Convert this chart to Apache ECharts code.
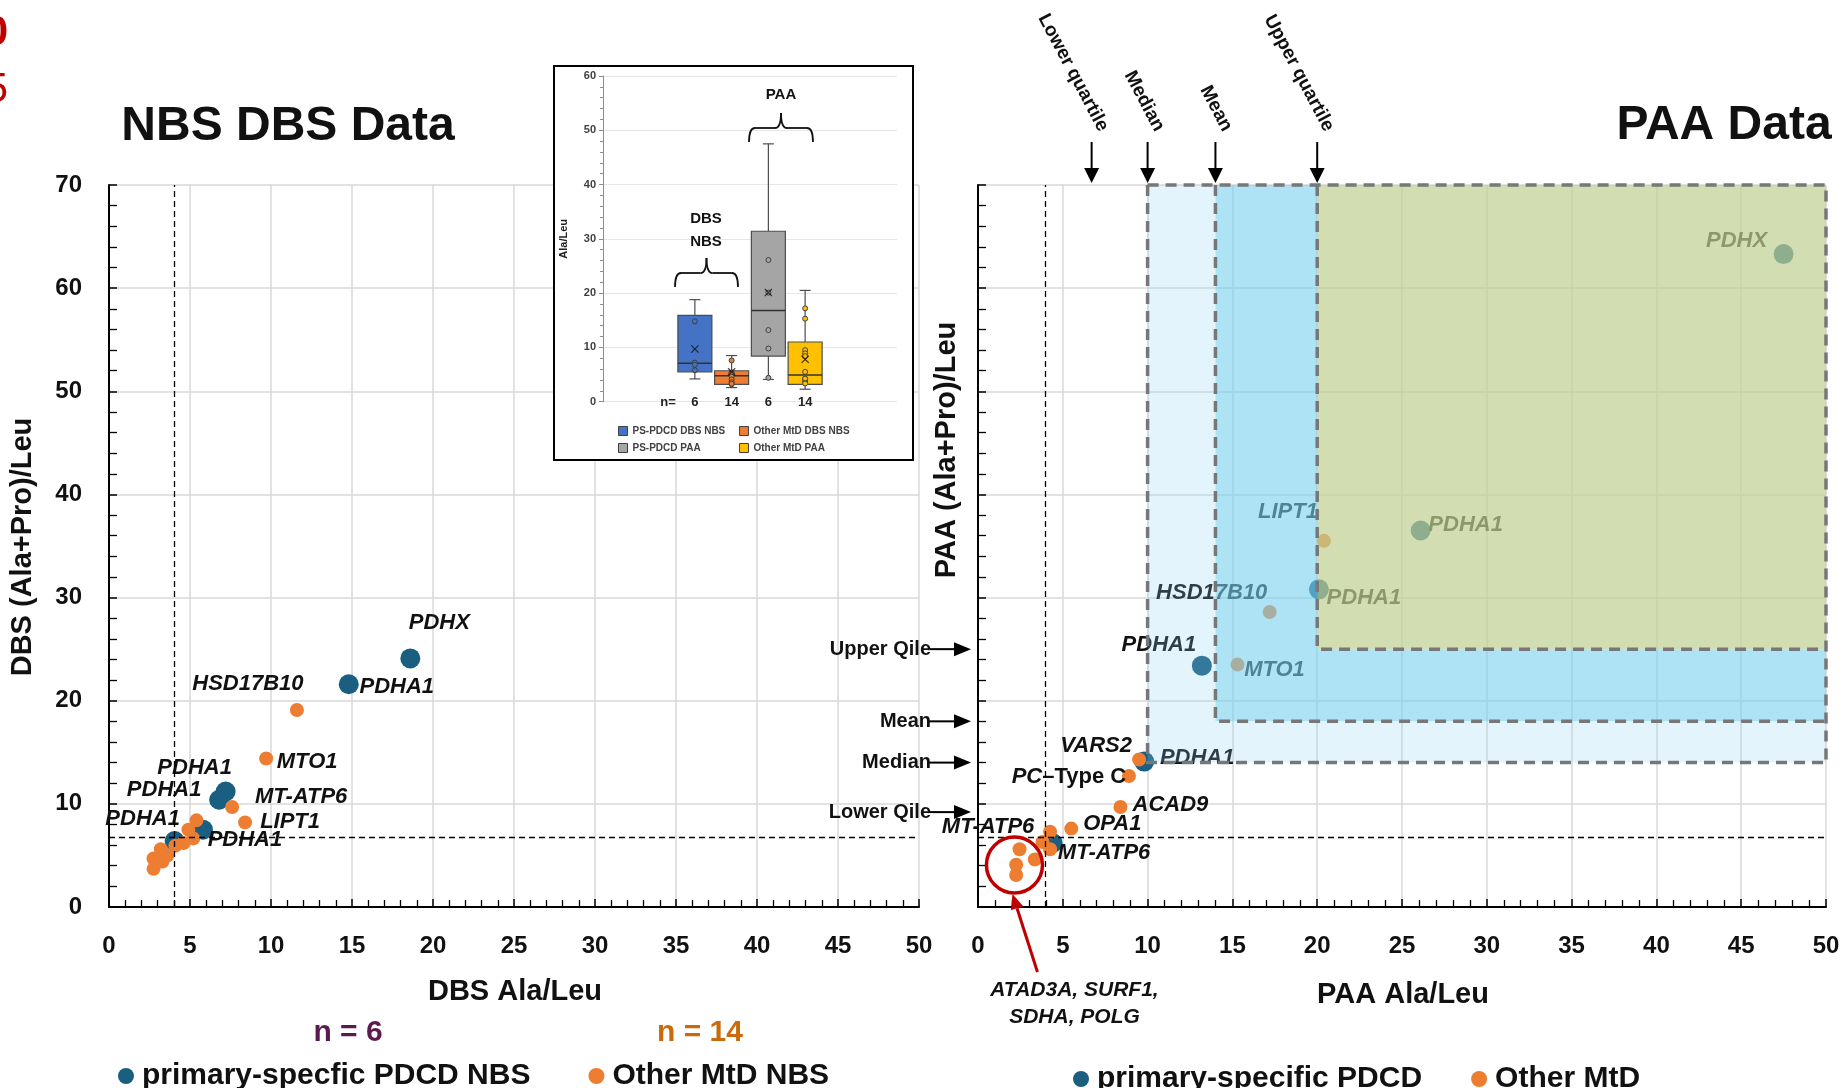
<!DOCTYPE html>
<html><head><meta charset="utf-8">
<script src="https://cdn.jsdelivr.net/npm/echarts@6/dist/echarts.min.js"></script>
<style>html,body{margin:0;padding:0;background:#fff}#c{width:1845px;height:1088px}</style>
</head><body><div id="c"></div>
<script>
// ---------------- data ----------------
// NBS dried blood spot data
const dbsPdcdX = [18.6, 14.8, 7.2, 6.8, 5.8, 4.05];
const dbsPdcdY = [24.1, 21.6, 11.2, 10.4, 7.5, 6.4];
const dbsPdcdGene = ['PDHX', 'PDHA1', 'PDHA1', 'PDHA1', 'PDHA1', 'PDHA1'];

const dbsOtherX = [11.6, 9.7, 7.6, 8.4, 5.4, 4.9, 5.2, 4.6, 4.1, 3.6, 3.2, 2.75, 2.75, 3.3];
const dbsOtherY = [19.1, 14.4, 9.7, 8.2, 8.4, 7.5, 6.65, 6.2, 5.95, 5.0, 5.6, 4.7, 3.7, 4.4];
const dbsOtherGene = ['HSD17B10', 'MTO1', 'MT-ATP6', 'LIPT1', '', '', '', '', '', '', '', '', '', ''];

// Plasma amino acid data
const paaPdcdX = [47.5, 26.1, 20.1, 13.2, 9.8, 4.4];
const paaPdcdY = [63.3, 36.5, 30.8, 23.4, 14.1, 6.2];
const paaPdcdGene = ['PDHX', 'PDHA1', 'PDHA1', 'PDHA1', 'PDHA1', ''];

const paaOtherX = [20.4, 17.2, 15.3, 9.5, 8.9, 8.4, 5.5, 4.25, 3.8, 4.25, 3.35, 2.45, 2.25, 2.25];
const paaOtherY = [35.5, 28.6, 23.5, 14.3, 12.7, 9.7, 7.6, 7.3, 6.3, 5.6, 4.6, 5.6, 4.1, 3.1];
const paaOtherGene = ['LIPT1', 'HSD17B10', 'MTO1', 'VARS2', 'PC–Type C', 'ACAD9', 'OPA1', 'MT-ATP6', '', 'MT-ATP6', '', '', '', ''];

// cut-off lines
const dbsCutX = 4.0, dbsCutY = 6.8;
const paaCutX = 3.95, paaCutY = 6.8;

// PDCD PAA summary statistics (order: lower quartile, median, mean, upper quartile)
const quartXLabels = ['Lower quartile', 'Median', 'Mean', 'Upper quartile'];
const quartXValues = [6.7, 10, 14, 20];
const quartYLabels = ['Lower Qile', 'Median', 'Mean', 'Upper Qile'];
const quartYValues = [9.2, 14, 18, 25];

// inset box plot
const boxNames = ['PS-PDCD DBS NBS', 'Other MtD DBS NBS', 'PS-PDCD PAA', 'Other MtD PAA'];
const boxStats = [ // min, Q1, median, Q3, max
  [4.2, 5.5, 7.1, 15.9, 18.8],
  [2.6, 3.2, 4.8, 5.7, 8.5],
  [4.1, 8.4, 16.8, 31.4, 47.5],
  [2.3, 3.2, 4.9, 11.0, 20.5]
];
const boxMeans = [9.7, 5.5, 20.1, 7.8];
const boxCounts = ['6', '14', '6', '14'];
const insetCats = ['', 'n=', ...boxCounts, '', ''];

// encircled genes
const circledGenes = ['ATAD3A, SURF1,', 'SDHA, POLG'];
const circleCenter = [2.15, 4.07];

// ---------------- styling ----------------
const FONT = '"Liberation Sans", Arial, Helvetica, sans-serif';
const BLUE = '#1a5e80', ORANGE = '#ed7d31';
const boxColors = ['#4472c4', '#ed7d31', '#a5a5a5', '#ffc000'];
const regionFills = ['rgba(137,208,242,0.24)', 'rgba(120,208,240,0.60)', 'rgba(191,207,147,0.71)'];
const LBL = {
  dbsPdcd: [[29, -35], [48, 3], [-31, -24], [-55, -10], [42, 10], [-32, -22]],
  dbsOther: [[-49, -26], [41, 3], [69, -10], [45, 0]],
  paaPdcd: [[-47, -13], [45, -6], [45, 9], [-43, -21], [53, -4]],
  paaOther: [[-36, -29], [-58, -19], [37, 5], [-43, -14], [-60, 1], [50, -2], [41, -5], [-62, -5], null, [54, 4]]
};

function pts(xs, ys, genes, offs) {
  return xs.map((x, i) => {
    const o = { value: [x, ys[i]] };
    if (genes[i]) {
      o.label = { show: true, formatter: genes[i], position: 'inside', offset: offs[i] };
      if (genes[i].indexOf('PC') === 0) {
        o.label.formatter = '{i|PC}' + genes[i].slice(2);
        o.label.fontStyle = 'normal';
        o.label.rich = { i: { fontStyle: 'italic', fontWeight: 'bold', fontSize: 22, fontFamily: FONT, color: '#111' } };
      }
    }
    return o;
  });
}
const geneLabel = { show: false, fontFamily: FONT, fontSize: 22, fontWeight: 'bold', fontStyle: 'italic', color: '#111' };

function mainX(g) {
  return {
    type: 'value', gridIndex: g, min: 0, max: 50, interval: 5,
    axisLine: { show: true, onZero: false, lineStyle: { color: '#000', width: 2 } },
    axisTick: { show: true, inside: true, length: 8, lineStyle: { color: '#000', width: 1.5 } },
    minorTick: { show: true, splitNumber: 5, length: 7, lineStyle: { color: '#000', width: 1.3 } },
    splitLine: { show: true, lineStyle: { color: '#d9d9d9', width: 1.5 } },
    axisLabel: { fontFamily: FONT, fontWeight: 'bold', fontSize: 24, color: '#111', margin: 27 }
  };
}
function mainY(g, showLabel) {
  return {
    type: 'value', gridIndex: g, min: 0, max: 70, interval: 10,
    axisLine: { show: true, onZero: false, lineStyle: { color: '#000', width: 2 } },
    axisTick: { show: true, inside: true, length: 8, lineStyle: { color: '#000', width: 1.5 } },
    minorTick: { show: true, splitNumber: 5, length: 8, lineStyle: { color: '#000', width: 1.3 } },
    splitLine: { show: true, lineStyle: { color: '#d9d9d9', width: 1.5 } },
    axisLabel: { show: showLabel, fontFamily: FONT, fontWeight: 'bold', fontSize: 24, color: '#111', margin: 27 }
  };
}
const cutLine = (x, y) => ({
  silent: true, symbol: 'none', label: { show: false },
  lineStyle: { type: [6, 4], color: '#000', width: 1.3 },
  data: [{ xAxis: x }, { yAxis: y }]
});

function boxRender(params, api) {
  const cx = api.value(0);
  const pt = k => api.coord([cx, api.value(k)]);
  const pMin = pt(1), pQ1 = pt(2), pMed = pt(3), pQ3 = pt(4), pMax = pt(5);
  const x = pMed[0], hw = 17, cw = 5.5;
  const st = { stroke: '#4d4d4d', lineWidth: 1.2 };
  return { type: 'group', children: [
    { type: 'line', shape: { x1: x, y1: pQ1[1], x2: x, y2: pMin[1] }, style: st },
    { type: 'line', shape: { x1: x, y1: pQ3[1], x2: x, y2: pMax[1] }, style: st },
    { type: 'line', shape: { x1: x - cw, y1: pMin[1], x2: x + cw, y2: pMin[1] }, style: st },
    { type: 'line', shape: { x1: x - cw, y1: pMax[1], x2: x + cw, y2: pMax[1] }, style: st },
    { type: 'rect', shape: { x: x - hw, y: pQ3[1], width: 2 * hw, height: pQ1[1] - pQ3[1] }, style: { fill: api.visual('color'), stroke: '#4d4d4d', lineWidth: 1.2 } },
    { type: 'line', shape: { x1: x - hw, y1: pMed[1], x2: x + hw, y2: pMed[1] }, style: { stroke: '#333', lineWidth: 1.5 } }
  ] };
}

const regionCorners = [1, 2, 3].map(i => [quartXValues[i], quartYValues[i]]);
function regionRender(params, api) {
  const i = params.dataIndex;
  const x0 = api.value(0), y0 = api.value(1);
  let poly;
  if (i < regionCorners.length - 1) {
    const [x1, y1] = regionCorners[i + 1];
    poly = [[x0, y0], [50, y0], [50, y1], [x1, y1], [x1, 70], [x0, 70]];
  } else {
    poly = [[x0, y0], [50, y0], [50, 70], [x0, 70]];
  }
  return { type: 'polygon', shape: { points: poly.map(p => api.coord(p)) }, style: { fill: regionFills[i] } };
}
function borderRender(params, api) {
  const x0 = api.value(0), y0 = api.value(1);
  const st = { fill: 'none', stroke: '#777', lineWidth: 3.5, lineDash: [11, 7] };
  const kids = [{ type: 'polyline', shape: { points: [[x0, 70], [x0, y0], [50, y0]].map(p => api.coord(p)) }, style: st }];
  if (params.dataIndex === 0) {
    kids.push({ type: 'polyline', shape: { points: [[x0, 70], [50, 70], [50, y0]].map(p => api.coord(p)) }, style: st });
  }
  return { type: 'group', children: kids };
}

// inset points from the individual x-values (values at whisker ends hidden by caps)
const insetSets = [dbsPdcdX, dbsOtherX, paaPdcdX, paaOtherX];
const insetPts = [];
insetSets.forEach((arr, k) => arr.forEach(v => {
  if (v > boxStats[k][0] + 0.3 && v < boxStats[k][4] - 0.3) {
    insetPts.push({ value: [2 + k, v], itemStyle: { color: boxColors[k] } });
  }
}));

const option = {
  animation: false,
  backgroundColor: '#fff',
  textStyle: { fontFamily: FONT },
  grid: [
    { left: 109, top: 185, width: 810, height: 722 },
    { left: 978, top: 185, width: 848, height: 722 },
    { left: 603, top: 76, width: 294, height: 325.7 }
  ],
  xAxis: [mainX(0), mainX(1), {
    type: 'category', gridIndex: 2, data: insetCats, z: 20,
    axisLine: { show: false }, axisTick: { show: false }, splitLine: { show: false },
    axisLabel: { interval: 0, margin: -6, fontSize: 13, fontWeight: 'bold', color: '#222',
      formatter: v => v === 'n=' ? '{n|n=}' : v,
      rich: { n: { padding: [0, 0, 0, 20], fontSize: 13, fontWeight: 'bold', color: '#222' } } }
  }],
  yAxis: [mainY(0, true), mainY(1, false), {
    type: 'value', gridIndex: 2, min: 0, max: 60, interval: 10, z: 20,
    name: 'Ala/Leu', nameLocation: 'middle', nameGap: 34,
    nameTextStyle: { fontSize: 11, fontWeight: 'bold', color: '#222' },
    axisLine: { show: true, lineStyle: { color: '#8c8c8c', width: 1 } },
    axisTick: { show: true, length: 4, lineStyle: { color: '#8c8c8c' } },
    minorTick: { show: true, splitNumber: 5, length: 3, lineStyle: { color: '#8c8c8c' } },
    splitLine: { show: true, lineStyle: { color: '#e6e6e6', width: 1 } },
    axisLabel: { fontSize: 11, fontWeight: 'bold', color: '#404040', margin: 7 }
  }],
  legend: [
    { data: ['primary-specfic PDCD NBS', 'Other MtD NBS'], left: 113, top: 1056, itemGap: 58, icon: 'circle',
      itemWidth: 16, itemHeight: 20, selectedMode: false,
      textStyle: { fontFamily: FONT, fontWeight: 'bold', fontSize: 30, color: '#111', lineHeight: 30, padding: [0, 0, 0, 3] } },
    { data: ['primary-specific PDCD', 'Other MtD'], left: 1068, top: 1059, itemGap: 49, icon: 'circle',
      itemWidth: 16, itemHeight: 20, selectedMode: false,
      textStyle: { fontFamily: FONT, fontWeight: 'bold', fontSize: 30, color: '#111', lineHeight: 30, padding: [0, 0, 0, 3] } },
    { data: [boxNames[0], boxNames[2]], left: 613, top: 421, orient: 'vertical', itemGap: 7, icon: 'rect',
      itemWidth: 9, itemHeight: 9, selectedMode: false, z: 30, itemStyle: { borderColor: '#404040', borderWidth: 1 },
      textStyle: { fontSize: 10, fontWeight: 'bold', color: '#404040' } },
    { data: [boxNames[1], boxNames[3]], left: 734, top: 421, orient: 'vertical', itemGap: 7, icon: 'rect',
      itemWidth: 9, itemHeight: 9, selectedMode: false, z: 30, itemStyle: { borderColor: '#404040', borderWidth: 1 },
      textStyle: { fontSize: 10, fontWeight: 'bold', color: '#404040' } }
  ],
  series: [
    { type: 'scatter', name: 'primary-specfic PDCD NBS', xAxisIndex: 0, yAxisIndex: 0, z: 2, symbolSize: 20,
      itemStyle: { color: BLUE, opacity: 1 }, label: geneLabel, emphasis: { disabled: true },
      data: pts(dbsPdcdX, dbsPdcdY, dbsPdcdGene, LBL.dbsPdcd), markLine: cutLine(dbsCutX, dbsCutY) },
    { type: 'scatter', name: 'Other MtD NBS', xAxisIndex: 0, yAxisIndex: 0, z: 3, symbolSize: 14,
      itemStyle: { color: ORANGE, opacity: 1 }, label: geneLabel, emphasis: { disabled: true },
      data: pts(dbsOtherX, dbsOtherY, dbsOtherGene, LBL.dbsOther) },
    { type: 'scatter', name: 'primary-specific PDCD', xAxisIndex: 1, yAxisIndex: 1, z: 2, symbolSize: 20,
      itemStyle: { color: BLUE, opacity: 1 }, label: geneLabel, emphasis: { disabled: true },
      data: pts(paaPdcdX, paaPdcdY, paaPdcdGene, LBL.paaPdcd), markLine: cutLine(paaCutX, paaCutY) },
    { type: 'scatter', name: 'Other MtD', xAxisIndex: 1, yAxisIndex: 1, z: 3, symbolSize: 14,
      itemStyle: { color: ORANGE, opacity: 1 }, label: geneLabel, emphasis: { disabled: true },
      data: pts(paaOtherX, paaOtherY, paaOtherGene, LBL.paaOther) },
    { type: 'custom', name: 'regions', xAxisIndex: 1, yAxisIndex: 1, z: 5, silent: true,
      renderItem: regionRender, data: regionCorners },
    { type: 'custom', name: 'region borders', xAxisIndex: 1, yAxisIndex: 1, z: 6, silent: true,
      renderItem: borderRender, data: regionCorners },
    ...boxNames.map((n, i) => ({
      type: 'custom', name: n, xAxisIndex: 2, yAxisIndex: 2, z: 22, silent: true,
      itemStyle: { color: boxColors[i] }, renderItem: boxRender,
      encode: { x: 0, y: [1, 2, 3, 4, 5] },
      data: [[2 + i, ...boxStats[i]]]
    })),
    { type: 'scatter', name: 'inset points', xAxisIndex: 2, yAxisIndex: 2, z: 23, silent: true, symbolSize: 5,
      itemStyle: { borderColor: '#404040', borderWidth: 1, opacity: 1 }, data: insetPts },
    { type: 'scatter', name: 'inset means', xAxisIndex: 2, yAxisIndex: 2, z: 24, silent: true, symbolSize: 8,
      symbol: 'path://M0,1L1,0L5,4L9,0L10,1L6,5L10,9L9,10L5,6L1,10L0,9L4,5Z',
      itemStyle: { color: '#111' }, data: boxMeans.map((m, i) => [2 + i, m]) }
  ]
};

const chart = echarts.init(document.getElementById('c'), null, { renderer: 'canvas' });
chart.setOption(option);

// ---------------- annotations ----------------
const P = (g, v) => chart.convertToPixel({ gridIndex: g }, v);
const G = [];
function T(x, y, text, size, o) {
  o = o || {};
  G.push({ type: 'text', x, y, rotation: o.rot || 0, z: o.z || 50, silent: true,
    style: { text, fontSize: size, fontWeight: o.w || 'bold', fontStyle: o.it || 'normal', fontFamily: o.f || FONT,
      fill: o.c || '#111', align: o.a || 'center', verticalAlign: 'middle' } });
}
function arrow(x1, y1, x2, y2, color, lw, head, hw, z) {
  const ang = Math.atan2(y2 - y1, x2 - x1);
  const bx = x2 - head * Math.cos(ang), by = y2 - head * Math.sin(ang);
  G.push({ type: 'line', z: z || 50, silent: true, shape: { x1, y1, x2: bx, y2: by }, style: { stroke: color, lineWidth: lw } });
  const px = -Math.sin(ang) * hw, py = Math.cos(ang) * hw;
  G.push({ type: 'polygon', z: z || 50, silent: true, shape: { points: [[x2, y2], [bx + px, by + py], [bx - px, by - py]] }, style: { fill: color } });
}

// titles / axis names
T(288, 127, 'NBS DBS Data', 48);
T(1724, 126, 'PAA Data', 48);
T(8, 33, '0', 42, { a: 'right', c: '#c00000' });
T(8, 90, '5', 42, { a: 'right', c: '#c00000', w: 'normal' });
T(23, 547, 'DBS (Ala+Pro)/Leu', 29, { rot: Math.PI / 2 });
T(947, 450, 'PAA (Ala+Pro)/Leu', 29, { rot: Math.PI / 2 });
T(515, 992, 'DBS Ala/Leu', 29);
T(1403, 995, 'PAA Ala/Leu', 29);
T(348, 1033, 'n = 6', 30, { c: '#5b1a50' });
T(700, 1033, 'n = 14', 30, { c: '#c96a0d' });

// quartile arrows on top of PAA plot
quartXValues.forEach((v, i) => {
  const [X, Y] = P(1, [v, 70]);
  arrow(X, Y - 43, X, Y - 2, '#000', 2, 15, 7.5);
  T(X + 12, Y - 55, quartXLabels[i], 19, { a: 'right', rot: -62 * Math.PI / 180 });
});
// quartile arrows on left of PAA plot
quartYValues.forEach((v, i) => {
  const [X, Y] = P(1, [0, v]);
  arrow(X - 50, Y, X - 7, Y, '#000', 2, 17, 7);
  T(X - 47, Y, quartYLabels[i], 20, { a: 'right' });
});

// red circle with genes
(function () {
  const [cx, cy] = P(1, circleCenter);
  G.push({ type: 'circle', z: 50, silent: true, shape: { cx, cy, r: 28 }, style: { fill: 'none', stroke: '#c00000', lineWidth: 3.5 } });
  arrow(cx + 23, cy + 107, cx - 2, cy + 29, '#c00000', 3, 15, 6.5);
  T(cx + 60, cy + 125, circledGenes[0], 21, { it: 'italic' });
  T(cx + 60, cy + 152, circledGenes[1], 21, { it: 'italic' });
})();

// inset frame and braces
G.push({ type: 'rect', z: 15, silent: true, shape: { x: 554, y: 66, width: 359, height: 394 }, style: { fill: '#fff', stroke: '#000', lineWidth: 2 } });
function brace(x1, x2, yEnd, yMid, yTip) {
  const xc = (x1 + x2) / 2, r = 6;
  const st = { fill: 'none', stroke: '#111', lineWidth: 1.8 };
  const q = (sx, sy, cx, cy, ex, ey) => G.push({ type: 'bezierCurve', z: 30, silent: true,
    shape: { x1: sx, y1: sy, cpx1: cx, cpy1: cy, x2: ex, y2: ey }, style: st });
  const l = (sx, sy, ex, ey) => G.push({ type: 'line', z: 30, silent: true, shape: { x1: sx, y1: sy, x2: ex, y2: ey }, style: st });
  q(x1, yEnd, x1, yMid, x1 + r, yMid);
  l(x1 + r, yMid, xc - r, yMid);
  q(xc - r, yMid, xc, yMid, xc, yTip);
  q(xc, yTip, xc, yMid, xc + r, yMid);
  l(xc + r, yMid, x2 - r, yMid);
  q(x2 - r, yMid, x2, yMid, x2, yEnd);
}
brace(675, 738, 287, 273, 258);
brace(749, 813, 142, 128, 113);
T(706, 219, 'DBS', 15, { z: 30 });
T(706, 242, 'NBS', 15, { z: 30 });
T(781, 95, 'PAA', 15, { z: 30 });

chart.setOption({ graphic: { elements: G } });
</script>
</body></html>
